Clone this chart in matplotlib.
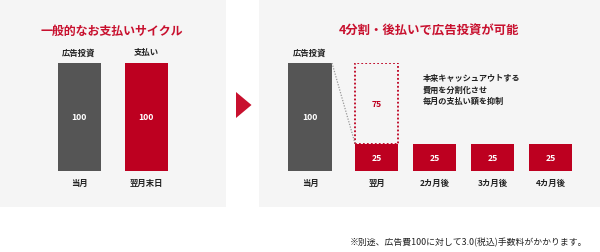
import matplotlib
matplotlib.use("Agg")
import matplotlib.pyplot as plt
from matplotlib.patches import Rectangle, Polygon

plt.rcParams['font.family'] = ['Noto Sans CJK JP', 'DejaVu Sans']

# ---- data ----
left_title = "一般的なお支払いサイクル"
left_categories = ["当月", "翌月末日"]
left_top_labels = ["広告投資", "支払い"]
left_values = [100, 100]

right_title = "4分割・後払いで広告投資が可能"
right_categories = ["当月", "翌月", "2カ月後", "3カ月後", "4カ月後"]
right_invest = 100
right_installments = [25, 25, 25, 25]
deferred_value = 75
note_lines = ["本来キャッシュアウトする", "費用を分割化させ", "毎月の支払い額を抑制"]
footnote = "※別途、広告費100に対して3.0(税込)手数料がかかります。"

GRAY = "#555555"
RED = "#bd0020"
TITLE_RED = "#c8102e"
PANEL = "#f5f5f5"
TXT = "#222222"

W, H = 600, 253
fig = plt.figure(figsize=(6.0, 2.53), dpi=100)
fig.patch.set_facecolor("white")


def fx(x):
    return x / W


def fy(y):
    return 1 - y / H


# panels
fig.patches.append(Rectangle((fx(0), fy(208)), fx(226), 208 / H, transform=fig.transFigure,
                             facecolor=PANEL, edgecolor="none", zorder=-5))
fig.patches.append(Rectangle((fx(259), fy(208)), fx(341), 208 / H, transform=fig.transFigure,
                             facecolor=PANEL, edgecolor="none", zorder=-5))
# arrow
fig.patches.append(Polygon([(fx(236), fy(93)), (fx(236), fy(119)), (fx(251.5), fy(106))],
                           closed=True, transform=fig.transFigure, facecolor=TITLE_RED,
                           edgecolor="none", zorder=-4))

# titles
fig.text(fx(112), fy(31), left_title, color=TITLE_RED, fontsize=8.6, fontweight="bold",
         ha="center", va="center")
fig.text(fx(429), fy(31), right_title, color=TITLE_RED, fontsize=8.9, fontweight="bold",
         ha="center", va="center")
fig.text(fx(587), fy(243), footnote, color=TXT, fontsize=6.4, ha="right", va="center")

# vertical mapping: value 0 at px 172, 100 at px 64
bottom_px, top_px = 172, 64
ax_y = fy(bottom_px)
ax_h = (bottom_px - top_px) / H
px_per_val = (bottom_px - top_px) / 100.0

# ---- left axes ----
unitL = 67.0
x0L = 79.0
axL = fig.add_axes([fx(x0L - 0.5 * unitL), ax_y, fx(2 * unitL), ax_h])
axL.set_xlim(-0.5, 1.5)
axL.set_ylim(0, 100)
axL.axis("off")
axL.patch.set_alpha(0)
posL = list(range(len(left_values)))
axL.bar(posL, left_values, width=43 / unitL, color=[GRAY, RED], edgecolor="none")
y_top_lab = 100 + (top_px - 53) / px_per_val
y_bot_lab = -(183 - bottom_px) / px_per_val
for p, v, c, t in zip(posL, left_values, left_categories, left_top_labels):
    axL.text(p, v / 2, str(v), color="white", fontsize=6.2, fontweight="bold", ha="center", va="center")
    axL.text(p, y_top_lab, t, color=TXT, fontsize=6.0, fontweight="bold", ha="center", va="center", clip_on=False)
    axL.text(p, y_bot_lab, c, color=TXT, fontsize=6.0, fontweight="bold", ha="center", va="center", clip_on=False)

# ---- right axes ----
unitR = 58.0
x0R = 310.0
posR = [0, 1.15, 2.15, 3.15, 4.15]
lo, hi = -0.55, 4.7
axR = fig.add_axes([fx(x0R + lo * unitR), ax_y, fx((hi - lo) * unitR), ax_h])
axR.set_xlim(lo, hi)
axR.set_ylim(0, 100)
axR.axis("off")
axR.patch.set_alpha(0)
wG = 44 / unitR
wR = 43 / unitR
axR.bar([posR[0]], [right_invest], width=wG, color=GRAY, edgecolor="none")
axR.bar(posR[1:], right_installments, width=wR, color=RED, edgecolor="none")
# deferred dotted box
axR.bar([posR[1]], [deferred_value], bottom=[right_installments[0]], width=wR,
        fill=False, edgecolor=RED, linestyle=(0, (1, 1.2)), linewidth=1.3)
# connector line
axR.plot([posR[0] + wG / 2, posR[1] - wR / 2], [right_invest, right_installments[0]],
         color="#999999", linestyle=(0, (1, 1.2)), linewidth=0.9)

axR.text(posR[0], right_invest / 2, str(right_invest), color="white", fontsize=6.2,
         fontweight="bold", ha="center", va="center")
axR.text(posR[1], right_installments[0] + deferred_value / 2, str(deferred_value), color=RED,
         fontsize=6.2, fontweight="bold", ha="center", va="center")
for p, v in zip(posR[1:], right_installments):
    axR.text(p, v / 2, str(v), color="white", fontsize=6.2, fontweight="bold", ha="center", va="center")
for p, c in zip(posR, right_categories):
    axR.text(p, y_bot_lab, c, color=TXT, fontsize=6.0, fontweight="bold", ha="center", va="center", clip_on=False)
axR.text(posR[0], y_top_lab, "広告投資", color=TXT, fontsize=6.0, fontweight="bold",
         ha="center", va="center", clip_on=False)

note_x = (423 - x0R) / unitR
for i, line in enumerate(note_lines):
    yv = 100 - (79 + 11 * i - top_px) / px_per_val
    axR.text(note_x, yv, line, color=TXT, fontsize=5.9, fontweight="bold", ha="left", va="center",
             clip_on=False)

fig.savefig("out.png", dpi=100, facecolor="white")
